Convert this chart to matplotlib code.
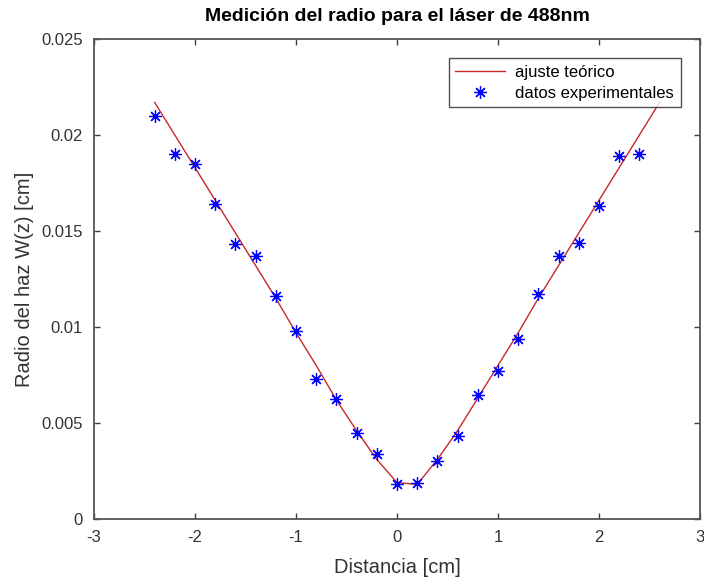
import numpy as np
import matplotlib
matplotlib.use("Agg")
import matplotlib.pyplot as plt

plt.rcParams['font.family'] = ['Liberation Sans', 'DejaVu Sans']

# --- DATA ---
# experimental beam radius measurements
x_data = [-2.4, -2.2, -2.0, -1.8, -1.6, -1.4, -1.2, -1.0, -0.8, -0.6, -0.4, -0.2, 0.0,
          0.2, 0.4, 0.6, 0.8, 1.0, 1.2, 1.4, 1.6, 1.8, 2.0, 2.2, 2.4]
w_data = [0.0210, 0.0190, 0.0185, 0.0164, 0.0143, 0.0137, 0.0116, 0.0098, 0.0073, 0.00625, 0.0045, 0.0034, 0.0018,
          0.00186, 0.0030, 0.0043, 0.00646, 0.0077, 0.0094, 0.0117, 0.0137, 0.0144, 0.0163, 0.0189, 0.0190]

# theoretical fit curve
x_fit = [-2.4, -2.2, -2.0, -1.8, -1.6, -1.4, -1.2, -1.0, -0.8, -0.6, -0.4, -0.2, 0.0,
         0.2, 0.4, 0.6, 0.8, 1.0, 1.2, 1.4, 1.6, 1.8, 2.0, 2.2, 2.4, 2.6]
w_fit = [0.0217, 0.0200, 0.0183, 0.0166, 0.0149, 0.0132, 0.0115, 0.0097, 0.0080, 0.0062, 0.0046, 0.0031, 0.0019,
         0.0018, 0.0031, 0.0046, 0.0063, 0.0080, 0.0097, 0.0115, 0.0132, 0.0149, 0.0166, 0.0183, 0.0200, 0.0217]

x_ticks = [-3, -2, -1, 0, 1, 2, 3]
y_ticks = [0, 0.005, 0.01, 0.015, 0.02, 0.025]
y_ticklabels = ["0", "0.005", "0.01", "0.015", "0.02", "0.025"]

# --- PLOT ---
fig = plt.figure(figsize=(7.04, 5.79), dpi=100)
ax = fig.add_axes([94 / 704, 60 / 579, 606 / 704, 480 / 579])

ax.plot(x_fit, w_fit, color="#c82828", linewidth=1.0, label="ajuste teórico")
ax.plot(x_data, w_data, linestyle="none", marker=(8, 2, 0), markersize=9, markeredgewidth=0.9,
        color="#0000ff", label="datos experimentales")

ax.set_xlim(-3, 3)
ax.set_ylim(0, 0.025)
ax.set_xticks(x_ticks)
ax.set_xticklabels([str(t) for t in x_ticks])
ax.set_yticks(y_ticks)
ax.set_yticklabels(y_ticklabels)

ax.tick_params(direction="in", top=True, right=True, length=4, width=1.0,
               colors="#404040", labelsize=12, labelcolor="#333333", pad=8)
for sp in ax.spines.values():
    sp.set_color("#555555")
    sp.set_linewidth(1.3)

ax.set_xlabel("Distancia [cm]", fontsize=14.5, color="#333333", labelpad=9)
ax.set_ylabel("Radio del haz W(z) [cm]", fontsize=14.5, color="#333333", labelpad=5)
ax.set_title("Medición del radio para el láser de 488nm", fontsize=14, fontweight="bold", pad=13)

leg = ax.legend(loc="upper right", fontsize=12, frameon=True, fancybox=False,
                edgecolor="#222222", borderaxespad=1.15, handlelength=3.0, borderpad=0.4,
                labelspacing=0.35, handletextpad=0.6)
leg.get_frame().set_linewidth(1.0)

fig.savefig("out.png", dpi=100)
